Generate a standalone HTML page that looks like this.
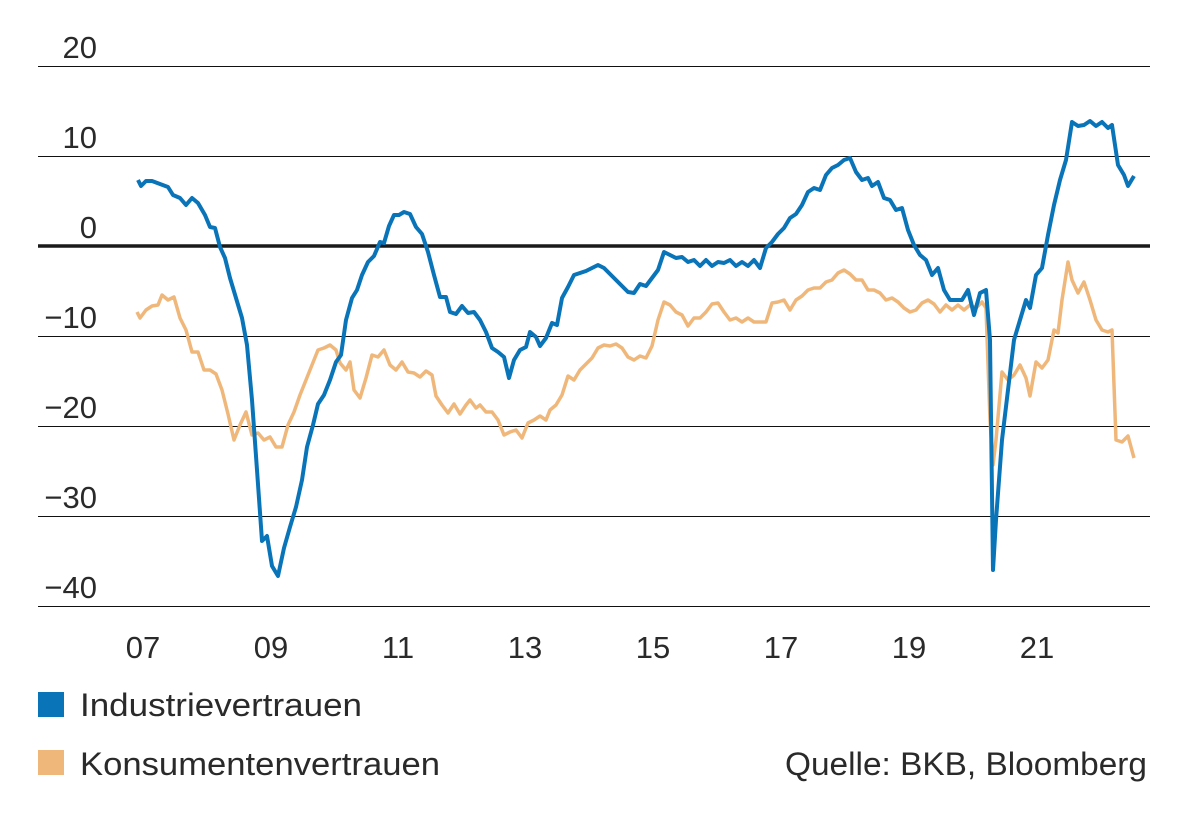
<!DOCTYPE html>
<html><head><meta charset="utf-8"><style>
body{margin:0;background:#fff;}
svg{display:block;font-family:"Liberation Sans",sans-serif;}
</style></head><body>
<svg width="1194" height="823" viewBox="0 0 1194 823" xmlns="http://www.w3.org/2000/svg">
<g stroke="#111" stroke-width="1" shape-rendering="crispEdges">
<line x1="38" y1="66.5" x2="1150" y2="66.5"/>
<line x1="38" y1="156.5" x2="1150" y2="156.5"/>
<line x1="38" y1="336.5" x2="1150" y2="336.5"/>
<line x1="38" y1="426.5" x2="1150" y2="426.5"/>
<line x1="38" y1="516.5" x2="1150" y2="516.5"/>
<line x1="38" y1="606.5" x2="1150" y2="606.5"/>
</g>
<g font-size="31" fill="#2a2a2a" text-anchor="end">
<text x="97" y="58">20</text>
<text x="97" y="148">10</text>
<text x="97" y="238">0</text>
<text x="97" y="328">−10</text>
<text x="97" y="418">−20</text>
<text x="97" y="508">−30</text>
<text x="97" y="598">−40</text>
</g>
<g font-size="31" fill="#2a2a2a" text-anchor="middle">
<text x="143" y="658">07</text>
<text x="271" y="658">09</text>
<text x="398" y="658">11</text>
<text x="525" y="658">13</text>
<text x="653" y="658">15</text>
<text x="781" y="658">17</text>
<text x="909" y="658">19</text>
<text x="1037" y="658">21</text>
</g>
<polyline fill="none" stroke="#f0b77b" stroke-width="3.5" stroke-linejoin="round" points="137,312 140,318 146,310 152,306 158,305 162,295 168,300 174,297 180,318 186,330 192,352 198,352 204,370 210,370 216,374 222,390 228,414 234,440 240,425 246,412 252,435 258,433 264,440 270,437 276,447 282,447 288,425 294,412 300,395 306,380 312,365 318,350 324,348 330,345 336,350 340,363 346,370 350,362 354,390 360,398 366,378 372,355 378,357 384,350 390,365 396,370 402,362 408,372 414,373 420,377 426,371 432,375 436,396 442,405 448,413 454,404 460,414 466,405 470,400 476,408 480,405 486,412 492,412 498,420 504,435 510,432 516,430 522,438 528,423 534,420 540,416 546,420 550,410 556,405 562,395 568,376 574,380 580,370 586,364 592,358 598,348 604,345 610,346 616,344 622,348 628,357 634,360 640,356 646,358 652,346 658,320 664,302 670,305 676,312 682,315 688,326 694,318 700,318 706,312 712,304 718,303 724,312 730,320 736,318 742,322 748,318 754,322 760,322 766,322 772,303 778,302 784,300 790,310 796,300 802,296 808,290 814,288 820,288 826,282 832,280 838,273 844,270 850,274 856,280 862,280 868,290 874,290 880,293 886,300 892,298 898,302 904,308 910,312 916,310 922,303 928,300 934,304 940,312 946,305 952,310 958,305 964,310 970,305 976,308 982,302 986,308 990,420 993,465 996,440 1002,372 1008,380 1014,375 1020,365 1026,378 1030,396 1036,362 1042,368 1048,360 1054,330 1058,333 1062,300 1068,262 1072,280 1078,293 1084,282 1090,300 1096,320 1102,330 1108,332 1112,330 1116,440 1122,442 1128,436 1134,458"/>
<line x1="38" y1="246" x2="1150" y2="246" stroke="#1a1a1a" stroke-width="3.5"/>
<polyline fill="none" stroke="#0a74b9" stroke-width="4" stroke-linejoin="round" points="138,180 141,186 146,181 152,181 160,184 168,187 173,195 180,198 186,205 192,198 198,203 205,215 210,227 215,228 220,247 225,258 230,278 236,298 242,318 247,345 252,400 257,470 262,541 267,536 272,566 278,576 284,548 290,527 296,507 302,480 307,447 313,425 318,404 324,395 330,380 336,362 341,355 346,320 352,298 357,290 362,275 368,262 374,256 380,242 384,243 389,226 394,215 399,215 404,212 410,214 416,227 422,234 428,252 434,275 440,297 446,297 450,312 456,314 462,306 468,313 474,312 480,320 486,332 492,348 498,352 504,357 509,378 514,360 520,350 526,347 530,332 536,337 540,346 546,338 552,323 557,325 562,298 568,287 574,275 580,273 586,271 592,268 598,265 604,268 610,274 616,280 622,286 628,292 634,293 640,284 646,286 652,278 658,270 664,252 670,255 676,258 682,257 688,262 694,260 700,266 706,260 712,266 718,262 724,263 730,260 736,266 742,262 748,266 754,260 760,268 766,248 772,242 778,234 784,228 790,218 796,214 802,205 808,192 814,188 820,190 826,175 832,168 838,165 844,160 850,158 856,172 862,180 868,178 872,186 878,182 884,198 890,200 896,210 902,208 908,230 914,245 920,255 926,260 932,275 938,268 944,290 950,300 956,300 962,300 968,290 974,315 980,293 986,290 990,340 993,570 996,520 1002,440 1008,390 1014,340 1020,320 1026,300 1030,308 1036,275 1042,268 1048,235 1054,205 1060,180 1066,160 1072,122 1078,126 1084,125 1090,121 1096,126 1102,122 1108,128 1112,125 1118,165 1124,175 1128,186 1134,176"/>
<rect x="38" y="692" width="26" height="25" fill="#0a74b9"/>
<rect x="38" y="750" width="26" height="25" fill="#f0b77b"/>
<g font-size="32" fill="#2a2a2a">
<text x="80" y="716" textLength="282" lengthAdjust="spacingAndGlyphs">Industrievertrauen</text>
<text x="80" y="775" textLength="360" lengthAdjust="spacingAndGlyphs">Konsumentenvertrauen</text>
<text x="785" y="775" textLength="362" lengthAdjust="spacingAndGlyphs">Quelle: BKB, Bloomberg</text>
</g>
</svg>
</body></html>
